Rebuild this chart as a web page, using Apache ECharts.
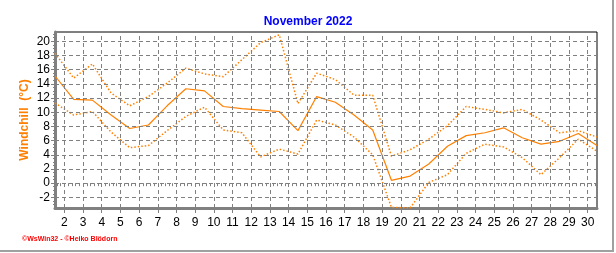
<!DOCTYPE html>
<html>
<head>
<meta charset="utf-8">
<script src="https://cdn.jsdelivr.net/npm/echarts@6/dist/echarts.min.js"></script>
<style>
html,body{margin:0;padding:0;background:#fff;}
#c{width:616px;height:253px;}
</style>
</head>
<body>
<div id="c"></div>
<script>
// Day of month (each value plotted at the middle of its day)
const days = [1,2,3,4,5,6,7,8,9,10,11,12,13,14,15,16,17,18,19,20,21,22,23,24,25,26,27,28,29,30];
// Windchill (°C)
const windchillMax = [18.3,14.8,16.8,12.7,10.9,12.2,14.1,16.2,15.4,15.0,17.4,19.8,20.9,11.2,15.5,14.6,12.4,12.4,3.8,4.7,6.2,8.1,10.8,10.4,9.9,10.4,8.9,7.1,7.4,6.5];
const windchillMean = [15.1,11.8,11.7,9.6,7.7,8.2,10.9,13.3,13.0,10.8,10.5,10.3,10.1,7.4,12.2,11.4,9.6,7.5,0.4,1.0,2.7,5.2,6.7,7.1,7.8,6.4,5.5,5.9,7.0,5.3];
const windchillMin = [11.3,9.6,10.1,7.2,5.0,5.3,7.4,9.4,10.7,7.5,7.1,3.7,4.8,4.1,8.9,8.2,6.5,4.0,-3.4,-3.5,0.1,1.2,4.2,5.5,5.1,3.6,1.2,3.6,6.2,4.5];
// Axis tick labels
const xTicks = [2,3,4,5,6,7,8,9,10,11,12,13,14,15,16,17,18,19,20,21,22,23,24,25,26,27,28,29,30];
const yTicks = [-2,0,2,4,6,8,10,12,14,16,18,20];

const title = 'November 2022';
const yName = 'Windchill  (°C)';
const footer = '©WsWin32 - ©Heiko Blödorn';

const X_MIN = 1.5, X_MAX = 30.5, Y_MIN = -3.5, Y_MAX = 21.3;
const ORANGE = '#ff8000';
const GRIDC = '#808080';

function pts(vals){ return days.map((d,i)=>[d+0.5, vals[i]]); }

const xMinor = [];
for (let v = 1.6; v < X_MAX; v += 0.2) xMinor.push(Math.round(v*10)/10);
const yMinor = [];
for (let v = -3; v <= 21; v += 0.5) yMinor.push(v);

const chart = echarts.init(document.getElementById('c'), null, {renderer:'canvas'});
chart.setOption({
  animation:false,
  backgroundColor:'#ffffff',
  title:{
    text:title, left:'center', top:11,
    textStyle:{color:'#0000ff', fontFamily:'Liberation Sans', fontSize:12, fontWeight:'bold'}
  },
  grid:{left:55, right:19, top:32, bottom:45, show:true, borderColor:'#000', borderWidth:1, backgroundColor:'transparent'},
  xAxis:[{
    type:'value', min:X_MIN, max:X_MAX,
    axisLine:{show:true, onZero:false, lineStyle:{color:GRIDC, width:3}},
    axisTick:{show:true, length:5, customValues:xTicks, lineStyle:{color:GRIDC, width:1}},
    axisLabel:{customValues:xTicks, margin:9, color:'#000', fontFamily:'Liberation Sans', fontSize:12},
    splitLine:{show:false}
  },{
    type:'value', min:X_MIN, max:X_MAX, position:'bottom',
    axisLine:{show:false},
    axisTick:{show:true, length:3, customValues:xMinor, lineStyle:{color:GRIDC, width:1}},
    axisLabel:{show:false},
    splitLine:{show:false}
  }],
  yAxis:[{
    type:'value', min:Y_MIN, max:Y_MAX,
    axisLine:{show:true, onZero:false, lineStyle:{color:GRIDC, width:3}},
    axisTick:{show:true, length:4, customValues:yTicks, lineStyle:{color:GRIDC, width:1}},
    axisLabel:{customValues:yTicks, margin:5, color:'#000', fontFamily:'Liberation Sans', fontSize:12},
    splitLine:{show:false}
  },{
    type:'value', min:Y_MIN, max:Y_MAX, position:'left',
    axisLine:{show:false},
    axisTick:{show:true, length:2, customValues:yMinor, lineStyle:{color:GRIDC, width:1}},
    axisLabel:{show:false},
    splitLine:{show:false}
  }],
  series:[
    {
      type:'line', data:[], z:1, silent:true,
      markLine:{
        silent:true, symbol:'none', animation:false,
        label:{show:false},
        lineStyle:{color:GRIDC, type:[4,3], width:1},
        data: yTicks.map(v=>({yAxis:v})).concat(xTicks.map(v=>({xAxis:v})))
      }
    },
    {type:'line', name:'max', data:pts(windchillMax), showSymbol:false, z:3,
      lineStyle:{color:ORANGE, width:1.5, type:[1.5,2]}},
    {type:'line', name:'mean', data:pts(windchillMean), showSymbol:false, z:4,
      lineStyle:{color:ORANGE, width:1.2}},
    {type:'line', name:'min', data:pts(windchillMin), showSymbol:false, z:3,
      lineStyle:{color:ORANGE, width:1.5, type:[1.5,2]}}
  ],
  graphic:[
    {type:'text', x:25, y:120, rotation:Math.PI/2,
      style:{text:yName, fill:ORANGE, font:'bold 12px "Liberation Sans"', align:'center', verticalAlign:'middle'}},
    {type:'text', x:22, y:239,
      style:{text:footer, fill:'#ff0000', font:'bold 7px "Liberation Sans"', align:'left', verticalAlign:'middle'}},
    {type:'line', shape:{x1:613, y1:0, x2:613, y2:252}, style:{stroke:'#a0a0a0', lineWidth:2}},
    {type:'line', shape:{x1:0, y1:251, x2:614, y2:251}, style:{stroke:'#a0a0a0', lineWidth:2}}
  ]
});
</script>
</body>
</html>
